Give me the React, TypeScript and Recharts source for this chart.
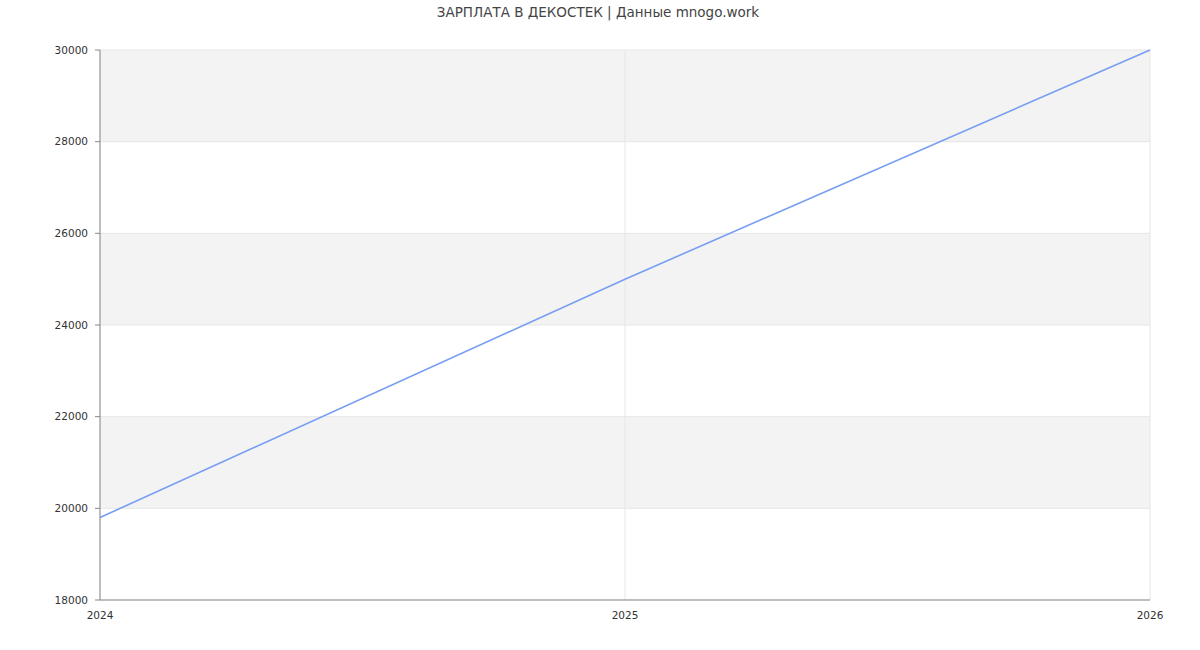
import { LineChart, Line, XAxis, YAxis, CartesianGrid } from "recharts";

const years = [2024, 2025, 2026];
const salary = [19800, 25000, 30000];
const yTicks = [18000, 20000, 22000, 24000, 26000, 28000, 30000];

const data = years.map((year, i) => ({ year, salary: salary[i] }));

const font = "'DejaVu Sans', sans-serif";

export default function App() {
  return (
    <div style={{ position: "relative", width: 1200, height: 650, fontFamily: font }}>
      <style>{`body { margin: 0; }`}</style>
      <div
        style={{
          position: "absolute",
          top: 4,
          left: 0,
          width: 1196,
          textAlign: "center",
          fontSize: 13.5,
          color: "#444",
        }}
      >
        ЗАРПЛАТА В ДЕКОСТЕК | Данные mnogo.work
      </div>
      <LineChart width={1200} height={650} data={data} margin={{ top: 50, right: 50, bottom: 20, left: 0 }}>
        <CartesianGrid stroke="#e6e6e6" horizontalFill={["#f3f3f3", "#ffffff"]} fillOpacity={1} />
        <XAxis
          dataKey="year"
          type="number"
          domain={[2024, 2026]}
          ticks={years}
          height={30}
          tickLine={false}
          tickMargin={6}
          stroke="#888"
          tick={{ fill: "#333", fontSize: 10.5, fontFamily: font }}
        />
        <YAxis
          type="number"
          domain={[18000, 30000]}
          ticks={yTicks}
          width={100}
          tickSize={5}
          tickMargin={7}
          stroke="#888"
          tick={{ fill: "#333", fontSize: 10.5, fontFamily: font }}
        />
        <Line
          type="linear"
          dataKey="salary"
          stroke="#779ef2"
          strokeWidth={1.6}
          dot={false}
          isAnimationActive={false}
        />
      </LineChart>
    </div>
  );
}
